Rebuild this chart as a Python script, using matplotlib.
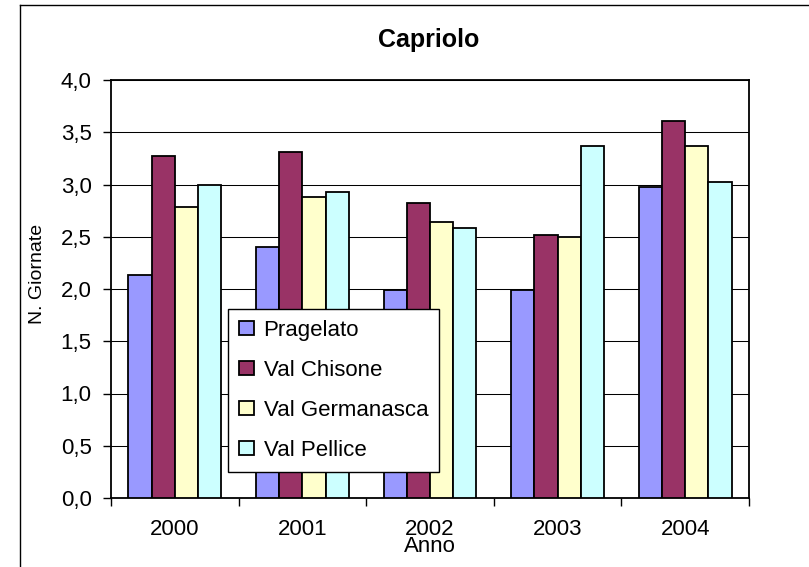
import matplotlib
matplotlib.use("Agg")
import matplotlib.pyplot as plt
from matplotlib.lines import Line2D
from matplotlib.ticker import FuncFormatter, FixedLocator
import numpy as np

# dati
anni = ["2000", "2001", "2002", "2003", "2004"]
pragelato = [2.13, 2.40, 1.99, 1.99, 2.98]
val_chisone = [3.27, 3.31, 2.82, 2.52, 3.61]
val_germanasca = [2.78, 2.88, 2.64, 2.50, 3.37]
val_pellice = [3.00, 2.93, 2.58, 3.37, 3.02]

serie = ["Pragelato", "Val Chisone", "Val Germanasca", "Val Pellice"]
colori = ["#9999FF", "#993366", "#FFFFCC", "#CCFFFF"]

plt.rcParams["font.family"] = ["Liberation Sans", "DejaVu Sans"]

W, H = 809, 567
fig = plt.figure(figsize=(W / 100, H / 100), dpi=100)
fig.patch.set_facecolor("white")

# area del grafico (in pixel: x 111-749, y 80-498)
ax = fig.add_axes([111 / W, 1 - 498 / H, 638 / W, 418 / H])

x = np.arange(len(anni))
w = 1 / 5.5
valori = [pragelato, val_chisone, val_germanasca, val_pellice]
for i, (nome, v, c) in enumerate(zip(serie, valori, colori)):
    ax.bar(x + (i - 1.5) * w, v, width=w, color=c, edgecolor="black",
           linewidth=1.3, label=nome, zorder=3)

ax.set_xlim(-0.5, len(anni) - 0.5)
ax.set_ylim(0, 4)
ax.set_yticks(np.arange(0, 4.01, 0.5))
ax.yaxis.set_major_formatter(FuncFormatter(lambda v, p: f"{v:.1f}".replace(".", ",")))
ax.grid(axis="y", color="black", linewidth=0.75, zorder=0)

ax.set_xticks(x)
ax.set_xticklabels(anni)
ax.xaxis.set_minor_locator(FixedLocator(np.arange(-0.5, len(anni), 1.0)))
ax.tick_params(axis="x", which="major", length=0, pad=15, labelsize=16)
ax.tick_params(axis="x", which="minor", length=6, width=1, direction="out")
ax.tick_params(axis="y", length=6, width=1, direction="out", pad=8, labelsize=16)

for s in ax.spines.values():
    s.set_linewidth(1.3)
    s.set_color("black")

ax.set_xlabel("Anno", fontsize=16, va="center")
ax.xaxis.set_label_coords(0.5, (498 - 546) / 418)
ax.set_ylabel("N. Giornate", fontsize=14, va="center")
ax.yaxis.set_label_coords((38 - 111) / 638, (498 - 274) / 418)

fig.text(429 / W, 1 - 40 / H, "Capriolo", fontsize=18, fontweight="bold",
         ha="center", va="center")

leg = ax.legend(loc="upper left", bbox_to_anchor=(228 / W, 1 - 309 / H),
                bbox_transform=fig.transFigure, fontsize=16, frameon=True,
                fancybox=False, shadow=False, framealpha=1, edgecolor="black",
                borderpad=0.5, labelspacing=0.85, handlelength=0.65,
                handleheight=0.6, handletextpad=0.45, borderaxespad=0)
leg.get_frame().set_linewidth(1.0)
leg.set_zorder(10)

# cornice esterna del grafico
fig.add_artist(Line2D([20 / W, 1], [1 - 5 / H, 1 - 5 / H], color="black",
                      linewidth=1.0, transform=fig.transFigure))
fig.add_artist(Line2D([20 / W, 20 / W], [0, 1 - 5 / H], color="black",
                      linewidth=1.0, transform=fig.transFigure))

fig.savefig("out.png", dpi=100)
plt.close(fig)
